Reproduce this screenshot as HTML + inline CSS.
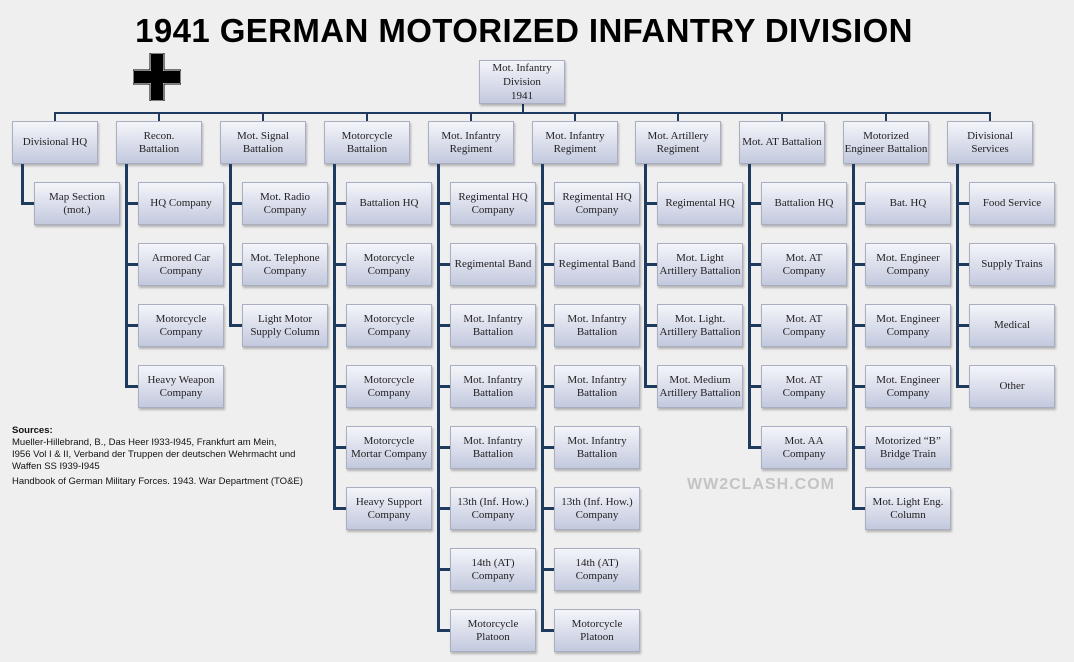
<!DOCTYPE html>
<html><head><meta charset="utf-8">
<style>
body{margin:0;width:1074px;height:662px;background:#efefef;position:relative;overflow:hidden;font-family:"Liberation Serif",serif}
.b{position:absolute;width:86px;height:43px;box-sizing:border-box;border:1px solid #a9afc0;background:linear-gradient(#f4f5fa,#c3c9de);box-shadow:1px 2px 2px rgba(0,0,0,.25);display:flex;align-items:center;justify-content:center;text-align:center;font-size:11px;line-height:13px;color:#222}
.l{position:absolute;background:#1f3a5f}
h1{position:absolute;left:0;width:1048px;top:12px;margin:0;text-align:center;font:bold 33px "Liberation Sans",sans-serif;color:#000;letter-spacing:0.4px}
.src{position:absolute;left:12px;top:425px;font:9.5px "Liberation Sans",sans-serif;line-height:12px;color:#111}
.wm{position:absolute;left:687px;top:476px;font:bold 16px "Liberation Sans",sans-serif;color:#c4c4c4;letter-spacing:1px}
</style></head><body>
<h1>1941 GERMAN MOTORIZED INFANTRY DIVISION</h1>
<svg style="position:absolute;left:133px;top:53px" width="48" height="48">
<path d="M17,0h14v17h17v14h-17v17h-14v-17h-17v-14h17z" fill="#fff" stroke="#000" stroke-width="1"/>
<path d="M18,1h12v17h17v12h-17v17h-12v-17h-17v-12h17z" fill="#000"/>
</svg>
<div class="src"><b>Sources:</b><br>Mueller-Hillebrand, B., Das Heer I933-I945, Frankfurt am Mein,<br>I956 Vol I &amp; II, Verband der Truppen der deutschen Wehrmacht und<br>Waffen SS I939-I945<div style="margin-top:3px">Handbook of German Military Forces. 1943. War Department (TO&amp;E)</div></div>
<div class="wm">WW2CLASH.COM</div>
<div id="c"></div>
<script>
var cols=[
["Divisional HQ",["Map Section<br>(mot.)"]],
["Recon.<br>Battalion",["HQ Company","Armored Car<br>Company","Motorcycle<br>Company","Heavy Weapon<br>Company"]],
["Mot. Signal<br>Battalion",["Mot. Radio<br>Company","Mot. Telephone<br>Company","Light Motor<br>Supply Column"]],
["Motorcycle<br>Battalion",["Battalion HQ","Motorcycle<br>Company","Motorcycle<br>Company","Motorcycle<br>Company","Motorcycle<br>Mortar Company","Heavy Support<br>Company"]],
["Mot. Infantry<br>Regiment",["Regimental HQ<br>Company","Regimental Band","Mot. Infantry<br>Battalion","Mot. Infantry<br>Battalion","Mot. Infantry<br>Battalion","13th (Inf. How.)<br>Company","14th (AT)<br>Company","Motorcycle<br>Platoon"]],
["Mot. Infantry<br>Regiment",["Regimental HQ<br>Company","Regimental Band","Mot. Infantry<br>Battalion","Mot. Infantry<br>Battalion","Mot. Infantry<br>Battalion","13th (Inf. How.)<br>Company","14th (AT)<br>Company","Motorcycle<br>Platoon"]],
["Mot. Artillery<br>Regiment",["Regimental HQ","Mot. Light<br>Artillery Battalion","Mot. Light.<br>Artillery Battalion","Mot. Medium<br>Artillery Battalion"]],
["Mot. AT Battalion",["Battalion HQ","Mot. AT<br>Company","Mot. AT<br>Company","Mot. AT<br>Company","Mot. AA<br>Company"]],
["Motorized<br>Engineer Battalion",["Bat. HQ","Mot. Engineer<br>Company","Mot. Engineer<br>Company","Mot. Engineer<br>Company","Motorized &ldquo;B&rdquo;<br>Bridge Train","Mot. Light Eng.<br>Column"]],
["Divisional<br>Services",["Food Service","Supply Trains","Medical","Other"]]];
var h='';
function L(x,y,w,hh){h+='<div class="l" style="left:'+x+'px;top:'+y+'px;width:'+w+'px;height:'+hh+'px"></div>';}
function B(x,y,t,s){h+='<div class="b" style="left:'+x+'px;top:'+y+'px;'+(s||'')+'">'+t+'</div>';}
L(522,104,2,9);L(55,112,936,2);
B(479,60,"Mot. Infantry<br>Division<br>1941","height:44px;line-height:14px");
cols.forEach(function(c,i){
 var x=12+i*103.9;x=Math.round(x);
 L(x+42,112,2,9);
 B(x,121,c[0]);
 var n=c[1].length,last=182+(n-1)*61+21;
 L(x+9,164,3,last-164+2);
 c[1].forEach(function(s,j){var y=182+j*61;L(x+9,y+20,14,3);B(x+22,y,s);});
});
document.getElementById('c').innerHTML=h;
</script>
</body></html>
